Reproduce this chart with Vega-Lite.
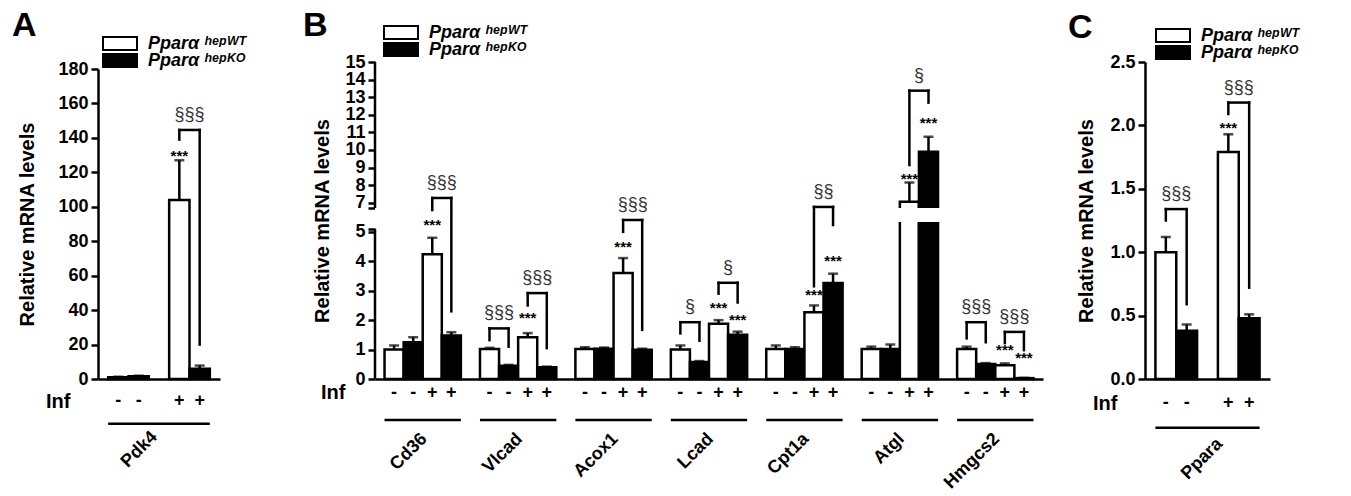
{
  "$schema": "https://vega.github.io/schema/vega-lite/v6.json",
  "autosize": {"type": "none"},
  "padding": {"left": 98, "top": 62, "right": 1253, "bottom": 434},
  "background": "white",
  "datasets": {
    "bars": [
      {"p":"A","k":"A1","g":"WT","s":"-","v":1.0,"hi":1.25},
      {"p":"A","k":"A2","g":"KO","s":"-","v":1.6,"hi":1.9},
      {"p":"A","k":"A3","g":"WT","s":"+","v":104,"hi":127},
      {"p":"A","k":"A4","g":"KO","s":"+","v":6.0,"hi":7.8},
      {"p":"B","k":"Cd36_1","g":"WT","s":"-","v":1.0,"hi":1.14},
      {"p":"B","k":"Cd36_2","g":"KO","s":"-","v":1.25,"hi":1.42},
      {"p":"B","k":"Cd36_3","g":"WT","s":"+","v":4.24,"hi":4.8},
      {"p":"B","k":"Cd36_4","g":"KO","s":"+","v":1.48,"hi":1.59},
      {"p":"B","k":"Vlcad_1","g":"WT","s":"-","v":1.02,"hi":1.06},
      {"p":"B","k":"Vlcad_2","g":"KO","s":"-","v":0.45,"hi":0.48},
      {"p":"B","k":"Vlcad_3","g":"WT","s":"+","v":1.42,"hi":1.56},
      {"p":"B","k":"Vlcad_4","g":"KO","s":"+","v":0.4,"hi":0.42},
      {"p":"B","k":"Acox1_1","g":"WT","s":"-","v":1.02,"hi":1.08},
      {"p":"B","k":"Acox1_2","g":"KO","s":"-","v":1.03,"hi":1.07},
      {"p":"B","k":"Acox1_3","g":"WT","s":"+","v":3.6,"hi":4.11},
      {"p":"B","k":"Acox1_4","g":"KO","s":"+","v":0.99,"hi":1.03},
      {"p":"B","k":"Lcad_1","g":"WT","s":"-","v":1.0,"hi":1.14},
      {"p":"B","k":"Lcad_2","g":"KO","s":"-","v":0.58,"hi":0.61},
      {"p":"B","k":"Lcad_3","g":"WT","s":"+","v":1.88,"hi":2.0},
      {"p":"B","k":"Lcad_4","g":"KO","s":"+","v":1.5,"hi":1.61},
      {"p":"B","k":"Cpt1a_1","g":"WT","s":"-","v":1.02,"hi":1.14},
      {"p":"B","k":"Cpt1a_2","g":"KO","s":"-","v":1.02,"hi":1.08},
      {"p":"B","k":"Cpt1a_3","g":"WT","s":"+","v":2.27,"hi":2.5},
      {"p":"B","k":"Cpt1a_4","g":"KO","s":"+","v":3.26,"hi":3.58},
      {"p":"B","k":"Atgl_1","g":"WT","s":"-","v":1.02,"hi":1.1},
      {"p":"B","k":"Atgl_2","g":"KO","s":"-","v":1.02,"hi":1.17},
      {"p":"B","k":"Atgl_3","g":"WT","s":"+","v":7.06,"hi":8.15},
      {"p":"B","k":"Atgl_4","g":"KO","s":"+","v":9.9,"hi":10.75},
      {"p":"B","k":"Hmgcs2_1","g":"WT","s":"-","v":1.02,"hi":1.1},
      {"p":"B","k":"Hmgcs2_2","g":"KO","s":"-","v":0.51,"hi":0.54},
      {"p":"B","k":"Hmgcs2_3","g":"WT","s":"+","v":0.47,"hi":0.53},
      {"p":"B","k":"Hmgcs2_4","g":"KO","s":"+","v":0.03,"hi":0.04},
      {"p":"C","k":"C1","g":"WT","s":"-","v":1.0,"hi":1.12},
      {"p":"C","k":"C2","g":"KO","s":"-","v":0.38,"hi":0.43},
      {"p":"C","k":"C3","g":"WT","s":"+","v":1.79,"hi":1.93},
      {"p":"C","k":"C4","g":"KO","s":"+","v":0.48,"hi":0.51}
    ],
    "br": [
      {"p":"A","k1":"A3","k2":"A4","top":144.6,"l":139,"r":20,"lab":"§§§"},
      {"p":"B","k1":"Cd36_3","k2":"Cd36_4","top":7.27,"l":6.53,"r":2.3,"lab":"§§§"},
      {"p":"B","k1":"Vlcad_1","k2":"Vlcad_2","top":1.72,"l":1.32,"r":1.1,"lab":"§§§"},
      {"p":"B","k1":"Vlcad_3","k2":"Vlcad_4","top":2.92,"l":2.5,"r":1.05,"lab":"§§§"},
      {"p":"B","k1":"Acox1_3","k2":"Acox1_4","top":5.7,"l":5.0,"r":1.67,"lab":"§§§"},
      {"p":"B","k1":"Lcad_1","k2":"Lcad_2","top":1.93,"l":1.55,"r":1.3,"lab":"§"},
      {"p":"B","k1":"Lcad_3","k2":"Lcad_4","top":3.27,"l":2.9,"r":2.6,"lab":"§"},
      {"p":"B","k1":"Cpt1a_3","k2":"Cpt1a_4","top":6.76,"l":3.15,"r":5.28,"lab":"§§"},
      {"p":"B","k1":"Atgl_3","k2":"Atgl_4","top":13.37,"l":9.14,"r":12.69,"lab":"§"},
      {"p":"B","k1":"Hmgcs2_1","k2":"Hmgcs2_2","top":1.93,"l":1.38,"r":1.25,"lab":"§§§"},
      {"p":"B","k1":"Hmgcs2_3","k2":"Hmgcs2_4","top":1.6,"l":1.22,"r":0.98,"lab":"§§§"},
      {"p":"C","k1":"C1","k2":"C2","top":1.34,"l":1.25,"r":0.59,"lab":"§§§"},
      {"p":"C","k1":"C3","k2":"C4","top":2.18,"l":2.09,"r":0.72,"lab":"§§§"}
    ],
    "stars": [
      {"p":"A","k":"A3","y":131},
      {"p":"B","k":"Cd36_3","y":5.56},
      {"p":"B","k":"Vlcad_3","y":2.17},
      {"p":"B","k":"Acox1_3","y":4.6},
      {"p":"B","k":"Lcad_3","y":2.5},
      {"p":"B","k":"Lcad_4","y":2.1},
      {"p":"B","k":"Cpt1a_3","y":2.95},
      {"p":"B","k":"Cpt1a_4","y":4.1},
      {"p":"B","k":"Atgl_3","y":8.52},
      {"p":"B","k":"Atgl_4","y":11.7},
      {"p":"B","k":"Hmgcs2_3","y":1.1},
      {"p":"B","k":"Hmgcs2_4","y":0.8},
      {"p":"C","k":"C3","y":2.0}
    ],
    "genes": [
      {"p":"A","k1":"A1","k2":"A4","name":"Pdk4"},
      {"p":"B","k1":"Cd36_1","k2":"Cd36_4","name":"Cd36"},
      {"p":"B","k1":"Vlcad_1","k2":"Vlcad_4","name":"Vlcad"},
      {"p":"B","k1":"Acox1_1","k2":"Acox1_4","name":"Acox1"},
      {"p":"B","k1":"Lcad_1","k2":"Lcad_4","name":"Lcad"},
      {"p":"B","k1":"Cpt1a_1","k2":"Cpt1a_4","name":"Cpt1a"},
      {"p":"B","k1":"Atgl_1","k2":"Atgl_4","name":"Atgl"},
      {"p":"B","k1":"Hmgcs2_1","k2":"Hmgcs2_4","name":"Hmgcs2"},
      {"p":"C","k1":"C1","k2":"C4","name":"Ppara"}
    ],
    "brk": [{"p":"B","lo":5.53,"hi":6.7}],
    "axseg": [{"p":"B","y1":0,"y2":5.1},{"p":"B","y1":6.7,"y2":15}]
  },
  "bounds": "flush",
  "columns": 3,
  "spacing": {"row": 0, "column": 102},
  "resolve": {"scale": {"x": "independent", "y": "independent", "fill": "independent"}, "legend": {"fill": "independent"}, "axis": {"x": "independent", "y": "independent"}},
  "concat": [
    {
      "width": 175, "height": 317,
      "title": {"text": "A", "anchor": "start", "frame": "group", "baseline": "alphabetic", "offset": -4, "dy": 30, "dx": -86},
      "layer": [
        {"data": {"name": "bars"}, "transform": [{"filter": "datum.p=='A'"}],
         "mark": {"type": "bar", "stroke": "black", "strokeWidth": 2.5},
         "encoding": {
           "x": {"field": "k", "type": "nominal", "scale": {"domain": ["A1","A2","Pdk4","A3","A4"], "range": [0, 122], "paddingInner": 0, "paddingOuter": 0.5}, "axis": {"title": null, "labels": false, "ticks": false}},
           "y": {"field": "v", "type": "quantitative", "scale": {"domain": [0, 180], "range": [317, 7], "nice": false}, "axis": {"values": [0,20,40,60,80,100,120,140,160,180], "tickCount": 50, "format": "d", "labelOverlap": false, "title": "Relative mRNA levels", "titleX": -65, "titleBaseline": "alphabetic"}},
           "fill": {"field": "g", "type": "nominal", "scale": {"domain": ["WT","KO"], "range": ["white","black"]},
                    "legend": {"title": null, "orient": "none", "legendX": 4, "legendY": -26, "padding": 0, "symbolType": "M-1,-0.38H1V0.38H-1Z", "symbolSize": 1156, "symbolStrokeColor": "black", "symbolStrokeWidth": 2, "clipHeight": 15, "rowPadding": -2, "labelFontSize": 18, "labelFontStyle": "italic", "labelFontWeight": "bold", "labelColor": "black", "labelOffset": 10, "labelLimit": 0, "labelExpr": "datum.label=='WT'?'Pparα ʰᵉᵖᵂᵀ':'Pparα ʰᵉᵖᴷᴼ'"}}
         }},
        {"data": {"name": "bars"}, "transform": [{"filter": "datum.p=='A'"}],
         "mark": {"type": "rule", "strokeWidth": 2.5, "color": "black"},
         "encoding": {"x": {"field": "k", "type": "nominal"}, "y": {"field": "v", "type": "quantitative"}, "y2": {"field": "hi"}}},
        {"data": {"name": "bars"}, "transform": [{"filter": "datum.p=='A'"}],
         "mark": {"type": "tick", "thickness": 2.5, "size": 10, "color": "black", "orient": "horizontal"},
         "encoding": {"x": {"field": "k", "type": "nominal"}, "y": {"field": "hi", "type": "quantitative"}}},
        {"data": {"name": "br"}, "transform": [{"filter": "datum.p=='A'"}],
         "mark": {"type": "rule", "strokeWidth": 2.5, "color": "black", "strokeCap": "square"},
         "encoding": {"x": {"field": "k1", "type": "nominal"}, "x2": {"field": "k2"}, "y": {"field": "top", "type": "quantitative"}}},
        {"data": {"name": "br"}, "transform": [{"filter": "datum.p=='A'"}],
         "mark": {"type": "rule", "strokeWidth": 2.5, "color": "black", "strokeCap": "square"},
         "encoding": {"x": {"field": "k1", "type": "nominal"}, "y": {"field": "l", "type": "quantitative"}, "y2": {"field": "top"}}},
        {"data": {"name": "br"}, "transform": [{"filter": "datum.p=='A'"}],
         "mark": {"type": "rule", "strokeWidth": 2.5, "color": "black", "strokeCap": "square"},
         "encoding": {"x": {"field": "k2", "type": "nominal"}, "y": {"field": "r", "type": "quantitative"}, "y2": {"field": "top"}}},
        {"data": {"name": "br"}, "transform": [{"filter": "datum.p=='A'"}],
         "mark": {"type": "text", "fontSize": 18, "color": "#333", "dy": -10, "baseline": "alphabetic"},
         "encoding": {"x": {"field": "k1", "type": "nominal", "bandPosition": 1}, "y": {"field": "top", "type": "quantitative"}, "text": {"field": "lab"}}},
        {"data": {"name": "stars"}, "transform": [{"filter": "datum.p=='A'"}],
         "mark": {"type": "text", "fontSize": 15, "fontWeight": "bold", "color": "black", "dy": 8, "baseline": "alphabetic"},
         "encoding": {"x": {"field": "k", "type": "nominal"}, "y": {"field": "y", "type": "quantitative"}, "text": {"value": "***"}}}
      ]
    },
    {
      "width": 668, "height": 317,
      "title": {"text": "B", "anchor": "start", "frame": "group", "baseline": "alphabetic", "offset": -15, "dy": 30, "dx": -72},
      "layer": [
        {"data": {"name": "bars"}, "transform": [{"filter": "datum.p=='B'"}],
         "mark": {"type": "bar", "stroke": "black", "strokeWidth": 2.5},
         "encoding": {
           "x": {"field": "k", "type": "nominal", "scale": {"domain": ["Cd36_1","Cd36_2","Cd36_3","Cd36_4","gap1","Vlcad_1","Vlcad_2","Vlcad_3","Vlcad_4","gap2","Acox1_1","Acox1_2","Acox1_3","Acox1_4","gap3","Lcad_1","Lcad_2","Lcad_3","Lcad_4","gap4","Cpt1a_1","Cpt1a_2","Cpt1a_3","Cpt1a_4","gap5","Atgl_1","Atgl_2","Atgl_3","Atgl_4","gap6","Hmgcs2_1","Hmgcs2_2","Hmgcs2_3","Hmgcs2_4"], "paddingInner": 0, "paddingOuter": 0.5}, "axis": {"title": null, "labels": false, "ticks": false}},
           "y": {"field": "v", "type": "quantitative", "scale": {"type": "linear", "domain": [0, 5.2, 6.7, 15], "range": [317, 164, 146, 0], "nice": false}, "axis": {"values": [0,1,2,3,4,5,5.1,6.7,7,8,9,10,11,12,13,14,15], "tickCount": 50, "format": ".0f", "labelExpr": "datum.value==5.1||datum.value==6.7?'':datum.label", "labelOverlap": false, "domain": false, "title": "Relative mRNA levels", "titleX": -47, "titleBaseline": "alphabetic"}},
           "fill": {"field": "g", "type": "nominal", "scale": {"domain": ["WT","KO"], "range": ["white","black"]},
                    "legend": {"title": null, "orient": "none", "legendX": 8, "legendY": -37, "padding": 0, "symbolType": "M-1,-0.38H1V0.38H-1Z", "symbolSize": 1156, "symbolStrokeColor": "black", "symbolStrokeWidth": 2, "clipHeight": 15, "rowPadding": -2, "labelFontSize": 18, "labelFontStyle": "italic", "labelFontWeight": "bold", "labelColor": "black", "labelOffset": 10, "labelLimit": 0, "labelExpr": "datum.label=='WT'?'Pparα ʰᵉᵖᵂᵀ':'Pparα ʰᵉᵖᴷᴼ'"}}
         }},
        {"data": {"name": "bars"}, "transform": [{"filter": "datum.p=='B'"}],
         "mark": {"type": "rule", "strokeWidth": 2.5, "color": "black"},
         "encoding": {"x": {"field": "k", "type": "nominal"}, "y": {"field": "v", "type": "quantitative"}, "y2": {"field": "hi"}}},
        {"data": {"name": "bars"}, "transform": [{"filter": "datum.p=='B'"}],
         "mark": {"type": "tick", "thickness": 2.5, "size": 10, "color": "black", "orient": "horizontal"},
         "encoding": {"x": {"field": "k", "type": "nominal"}, "y": {"field": "hi", "type": "quantitative"}}},
        {"data": {"name": "brk"},
         "mark": {"type": "rect", "fill": "white", "stroke": null},
         "encoding": {"y": {"field": "lo", "type": "quantitative"}, "y2": {"field": "hi"}}},
        {"data": {"name": "axseg"},
         "mark": {"type": "rule", "strokeWidth": 2.5, "color": "black"},
         "encoding": {"x": {"datum": "Cd36_1", "type": "nominal", "bandPosition": -0.5}, "y": {"field": "y1", "type": "quantitative"}, "y2": {"field": "y2"}}},
        {"data": {"name": "br"}, "transform": [{"filter": "datum.p=='B'"}],
         "mark": {"type": "rule", "strokeWidth": 2.5, "color": "black", "strokeCap": "square"},
         "encoding": {"x": {"field": "k1", "type": "nominal"}, "x2": {"field": "k2"}, "y": {"field": "top", "type": "quantitative"}}},
        {"data": {"name": "br"}, "transform": [{"filter": "datum.p=='B'"}],
         "mark": {"type": "rule", "strokeWidth": 2.5, "color": "black", "strokeCap": "square"},
         "encoding": {"x": {"field": "k1", "type": "nominal"}, "y": {"field": "l", "type": "quantitative"}, "y2": {"field": "top"}}},
        {"data": {"name": "br"}, "transform": [{"filter": "datum.p=='B'"}],
         "mark": {"type": "rule", "strokeWidth": 2.5, "color": "black", "strokeCap": "square"},
         "encoding": {"x": {"field": "k2", "type": "nominal"}, "y": {"field": "r", "type": "quantitative"}, "y2": {"field": "top"}}},
        {"data": {"name": "br"}, "transform": [{"filter": "datum.p=='B'"}],
         "mark": {"type": "text", "fontSize": 18, "color": "#333", "dy": -10, "baseline": "alphabetic"},
         "encoding": {"x": {"field": "k1", "type": "nominal", "bandPosition": 1}, "y": {"field": "top", "type": "quantitative"}, "text": {"field": "lab"}}},
        {"data": {"name": "stars"}, "transform": [{"filter": "datum.p=='B'"}],
         "mark": {"type": "text", "fontSize": 15, "fontWeight": "bold", "color": "black", "dy": 8, "baseline": "alphabetic"},
         "encoding": {"x": {"field": "k", "type": "nominal"}, "y": {"field": "y", "type": "quantitative"}, "text": {"value": "***"}}}
      ]
    },
    {
      "width": 125, "height": 317,
      "title": {"text": "C", "anchor": "start", "frame": "group", "baseline": "alphabetic", "offset": -14, "dy": 30, "dx": -77},
      "layer": [
        {"data": {"name": "bars"}, "transform": [{"filter": "datum.p=='C'"}],
         "mark": {"type": "bar", "stroke": "black", "strokeWidth": 2.5},
         "encoding": {
           "x": {"field": "k", "type": "nominal", "scale": {"domain": ["C1","C2","Ppara","C3","C4"], "paddingInner": 0, "paddingOuter": 0.5}, "axis": {"title": null, "labels": false, "ticks": false}},
           "y": {"field": "v", "type": "quantitative", "scale": {"domain": [0, 2.5], "nice": false}, "axis": {"values": [0,0.5,1,1.5,2,2.5], "tickCount": 50, "format": ".1f", "labelOverlap": false, "title": "Relative mRNA levels", "titleX": -53, "titleBaseline": "alphabetic"}},
           "fill": {"field": "g", "type": "nominal", "scale": {"domain": ["WT","KO"], "range": ["white","black"]},
                    "legend": {"title": null, "orient": "none", "legendX": 10, "legendY": -34, "padding": 0, "symbolType": "M-1,-0.38H1V0.38H-1Z", "symbolSize": 1156, "symbolStrokeColor": "black", "symbolStrokeWidth": 2, "clipHeight": 15, "rowPadding": -2, "labelFontSize": 18, "labelFontStyle": "italic", "labelFontWeight": "bold", "labelColor": "black", "labelOffset": 10, "labelLimit": 0, "labelExpr": "datum.label=='WT'?'Pparα ʰᵉᵖᵂᵀ':'Pparα ʰᵉᵖᴷᴼ'"}}
         }},
        {"data": {"name": "bars"}, "transform": [{"filter": "datum.p=='C'"}],
         "mark": {"type": "rule", "strokeWidth": 2.5, "color": "black"},
         "encoding": {"x": {"field": "k", "type": "nominal"}, "y": {"field": "v", "type": "quantitative"}, "y2": {"field": "hi"}}},
        {"data": {"name": "bars"}, "transform": [{"filter": "datum.p=='C'"}],
         "mark": {"type": "tick", "thickness": 2.5, "size": 10, "color": "black", "orient": "horizontal"},
         "encoding": {"x": {"field": "k", "type": "nominal"}, "y": {"field": "hi", "type": "quantitative"}}},
        {"data": {"name": "br"}, "transform": [{"filter": "datum.p=='C'"}],
         "mark": {"type": "rule", "strokeWidth": 2.5, "color": "black", "strokeCap": "square"},
         "encoding": {"x": {"field": "k1", "type": "nominal"}, "x2": {"field": "k2"}, "y": {"field": "top", "type": "quantitative"}}},
        {"data": {"name": "br"}, "transform": [{"filter": "datum.p=='C'"}],
         "mark": {"type": "rule", "strokeWidth": 2.5, "color": "black", "strokeCap": "square"},
         "encoding": {"x": {"field": "k1", "type": "nominal"}, "y": {"field": "l", "type": "quantitative"}, "y2": {"field": "top"}}},
        {"data": {"name": "br"}, "transform": [{"filter": "datum.p=='C'"}],
         "mark": {"type": "rule", "strokeWidth": 2.5, "color": "black", "strokeCap": "square"},
         "encoding": {"x": {"field": "k2", "type": "nominal"}, "y": {"field": "r", "type": "quantitative"}, "y2": {"field": "top"}}},
        {"data": {"name": "br"}, "transform": [{"filter": "datum.p=='C'"}],
         "mark": {"type": "text", "fontSize": 18, "color": "#333", "dy": -10, "baseline": "alphabetic"},
         "encoding": {"x": {"field": "k1", "type": "nominal", "bandPosition": 1}, "y": {"field": "top", "type": "quantitative"}, "text": {"field": "lab"}}},
        {"data": {"name": "stars"}, "transform": [{"filter": "datum.p=='C'"}],
         "mark": {"type": "text", "fontSize": 15, "fontWeight": "bold", "color": "black", "dy": 8, "baseline": "alphabetic"},
         "encoding": {"x": {"field": "k", "type": "nominal"}, "y": {"field": "y", "type": "quantitative"}, "text": {"value": "***"}}}
      ]
    },
    {
      "width": 175, "height": 67,
      "layer": [
        {"data": {"name": "bars"}, "transform": [{"filter": "datum.p=='A'"}],
         "mark": {"type": "text", "fontSize": 18, "fontWeight": "bold", "color": "black"},
         "encoding": {
           "x": {"field": "k", "type": "nominal", "scale": {"type": "band", "domain": ["A1","A2","Pdk4","A3","A4"], "range": [0, 122], "paddingInner": 0, "paddingOuter": 0.5},
                 "axis": {"title": null, "orient": "bottom", "offset": -18.5, "domain": false, "ticks": false, "labelAngle": 315, "labelAlign": "right", "labelBaseline": "top", "labelPadding": 0, "labelOffset": -10.8, "labelLimit": 0, "labelOverlap": false, "labelBound": false, "labelFlush": false, "labelExpr": "datum.value=='Pdk4'?datum.value:''"}},
           "y": {"datum": "Inf", "type": "nominal", "scale": {"type": "point", "domain": ["Inf","line"], "padding": 1.733}, "axis": {"title": null, "domain": false, "ticks": false, "labelExpr": "datum.value=='Inf'?'Inf':''", "labelFontSize": 20, "labelPadding": 28}},
           "text": {"field": "s"}}},
        {"data": {"name": "genes"}, "transform": [{"filter": "datum.p=='A'"}],
         "mark": {"type": "rule", "strokeWidth": 2.5, "color": "black"},
         "encoding": {"x": {"field": "k1", "type": "nominal", "bandPosition": 0}, "x2": {"field": "k2", "bandPosition": 1}, "y": {"datum": "line", "type": "nominal"}}}
      ]
    },
    {
      "width": 668, "height": 55,
      "layer": [
        {"data": {"name": "bars"}, "transform": [{"filter": "datum.p=='B'"}],
         "mark": {"type": "text", "fontSize": 18, "fontWeight": "bold", "color": "black"},
         "encoding": {
           "x": {"field": "k", "type": "nominal", "scale": {"type": "band", "domain": ["Cd36_1","Cd36_2","Cd36_3","Cd36_4","gap1","Vlcad_1","Vlcad_2","Vlcad_3","Vlcad_4","gap2","Acox1_1","Acox1_2","Acox1_3","Acox1_4","gap3","Lcad_1","Lcad_2","Lcad_3","Lcad_4","gap4","Cpt1a_1","Cpt1a_2","Cpt1a_3","Cpt1a_4","gap5","Atgl_1","Atgl_2","Atgl_3","Atgl_4","gap6","Hmgcs2_1","Hmgcs2_2","Hmgcs2_3","Hmgcs2_4"], "paddingInner": 0, "paddingOuter": 0.5},
                 "axis": {"title": null, "orient": "bottom", "offset": -4.5, "domain": false, "ticks": false, "labelAngle": 315, "labelAlign": "right", "labelBaseline": "top", "labelPadding": 0, "labelOffset": 4.8, "labelLimit": 0, "labelOverlap": false, "labelBound": false, "labelFlush": false, "labelExpr": "indexof(datum.value,'_2')>0?split(datum.value,'_')[0]:''"}},
           "y": {"datum": "Inf", "type": "nominal", "scale": {"type": "point", "domain": ["Inf","line"], "padding": 0.5185}, "axis": {"title": null, "domain": false, "ticks": false, "labelExpr": "datum.value=='Inf'?'Inf':''", "labelFontSize": 20, "labelPadding": 30}},
           "text": {"field": "s"}}},
        {"data": {"name": "genes"}, "transform": [{"filter": "datum.p=='B'"}],
         "mark": {"type": "rule", "strokeWidth": 2.5, "color": "black"},
         "encoding": {"x": {"field": "k1", "type": "nominal", "bandPosition": 0}, "x2": {"field": "k2", "bandPosition": 1}, "y": {"datum": "line", "type": "nominal"}}}
      ]
    },
    {
      "width": 125, "height": 73,
      "layer": [
        {"data": {"name": "bars"}, "transform": [{"filter": "datum.p=='C'"}],
         "mark": {"type": "text", "fontSize": 18, "fontWeight": "bold", "color": "black"},
         "encoding": {
           "x": {"field": "k", "type": "nominal", "scale": {"type": "band", "domain": ["C1","C2","Ppara","C3","C4"], "paddingInner": 0, "paddingOuter": 0.5},
                 "axis": {"title": null, "orient": "bottom", "offset": -17.5, "domain": false, "ticks": false, "labelAngle": 315, "labelAlign": "right", "labelBaseline": "top", "labelPadding": 0, "labelOffset": 6, "labelLimit": 0, "labelOverlap": false, "labelBound": false, "labelFlush": false, "labelExpr": "datum.value=='Ppara'?datum.value:''"}},
           "y": {"datum": "Inf", "type": "nominal", "scale": {"type": "point", "domain": ["Inf","line"], "padding": 1.647}, "axis": {"title": null, "domain": false, "ticks": false, "labelExpr": "datum.value=='Inf'?'Inf':''", "labelFontSize": 20, "labelPadding": 28}},
           "text": {"field": "s"}}},
        {"data": {"name": "genes"}, "transform": [{"filter": "datum.p=='C'"}],
         "mark": {"type": "rule", "strokeWidth": 2.5, "color": "black"},
         "encoding": {"x": {"field": "k1", "type": "nominal", "bandPosition": 0}, "x2": {"field": "k2", "bandPosition": 1}, "y": {"datum": "line", "type": "nominal"}}}
      ]
    }
  ],
  "config": {
    "view": {"stroke": null},
    "font": "Liberation Sans",
    "axis": {"domainColor": "black", "domainWidth": 2.5, "tickColor": "black", "tickWidth": 2.5, "tickSize": 7, "labelColor": "black", "labelFont": "Liberation Sans", "labelFontSize": 18, "labelFontWeight": "bold", "labelPadding": 3, "labelOverlap": false, "titleColor": "black", "titleFont": "Liberation Sans", "titleFontSize": 20, "titleFontWeight": "bold", "grid": false},
    "text": {"font": "Liberation Sans"},
    "title": {"font": "Liberation Sans", "color": "black", "fontSize": 34, "fontWeight": "bold"},
    "legend": {"labelFont": "Liberation Sans"}
  }
}
